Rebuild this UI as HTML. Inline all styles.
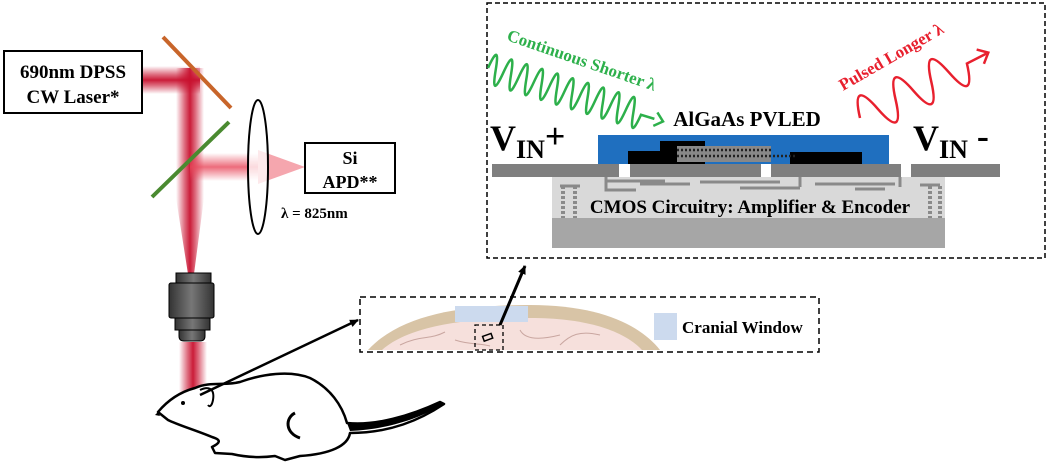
<!DOCTYPE html>
<html><head><meta charset="utf-8"><style>
html,body{margin:0;padding:0;background:#fff;}
svg{display:block;font-family:"Liberation Serif",serif;font-weight:bold;}
</style></head><body>
<svg width="1050" height="467" viewBox="0 0 1050 467" xmlns="http://www.w3.org/2000/svg">
<defs>
<linearGradient id="bh" x1="0" y1="0" x2="0" y2="1">
<stop offset="0" stop-color="#c8102e" stop-opacity="0"/><stop offset="0.3" stop-color="#c8102e" stop-opacity="0.6"/><stop offset="0.5" stop-color="#c8102e" stop-opacity="0.95"/><stop offset="0.7" stop-color="#c8102e" stop-opacity="0.6"/><stop offset="1" stop-color="#c8102e" stop-opacity="0"/></linearGradient>
<linearGradient id="bv" x1="0" y1="0" x2="1" y2="0">
<stop offset="0" stop-color="#c8102e" stop-opacity="0"/><stop offset="0.3" stop-color="#c8102e" stop-opacity="0.6"/><stop offset="0.5" stop-color="#c8102e" stop-opacity="0.95"/><stop offset="0.7" stop-color="#c8102e" stop-opacity="0.6"/><stop offset="1" stop-color="#c8102e" stop-opacity="0"/></linearGradient>
<linearGradient id="bh2" x1="0" y1="0" x2="0" y2="1">
<stop offset="0" stop-color="#e8475a" stop-opacity="0"/><stop offset="0.5" stop-color="#e8475a" stop-opacity="0.8"/><stop offset="1" stop-color="#e8475a" stop-opacity="0"/></linearGradient>
<linearGradient id="obj" x1="0" y1="0" x2="1" y2="0">
<stop offset="0" stop-color="#333"/><stop offset="0.5" stop-color="#777"/><stop offset="1" stop-color="#333"/></linearGradient>
<marker id="ah" markerWidth="10" markerHeight="10" refX="8" refY="5" orient="auto" markerUnits="userSpaceOnUse"><path d="M0,1 L9,5 L0,9 z" fill="#000"/></marker>
</defs>

<!-- beams -->
<rect x="142" y="66" width="58" height="28" fill="url(#bh)"/>
<rect x="176" y="68" width="28" height="130" fill="url(#bv)"/>
<polygon points="176,198 204,198 194,274 188,274" fill="url(#bv)"/>
<rect x="190" y="153" width="68" height="28" fill="url(#bh2)"/>
<polygon points="258,150 305,167 258,184" fill="#ef6a78" opacity="0.6"/>
<rect x="179" y="342" width="28" height="52" fill="url(#bv)"/>

<!-- mirrors -->
<line x1="163" y1="37" x2="231" y2="108" stroke="#c8652a" stroke-width="4"/>
<line x1="229" y1="122" x2="152" y2="197" stroke="#4a8a30" stroke-width="4"/>

<!-- lens -->
<ellipse cx="258" cy="167" rx="10" ry="67" fill="#fff" stroke="#000" stroke-width="2" fill-opacity="0.75"/>

<!-- laser box -->
<rect x="4" y="51" width="138" height="62" fill="#fff" stroke="#000" stroke-width="2"/>
<text x="73" y="78" font-size="19" text-anchor="middle">690nm DPSS</text>
<text x="73" y="103" font-size="19" text-anchor="middle">CW Laser*</text>

<!-- APD -->
<rect x="305" y="143" width="90" height="50" fill="#fff" stroke="#000" stroke-width="2"/>
<text x="350" y="164" font-size="18" text-anchor="middle">Si</text>
<text x="350" y="188" font-size="18" text-anchor="middle">APD**</text>
<text x="281" y="218" font-size="15">λ = 825nm</text>

<!-- objective -->
<rect x="176" y="273" width="35" height="10" fill="url(#obj)" stroke="#000"/>
<rect x="169" y="283" width="45" height="35" rx="2" fill="url(#obj)" stroke="#000"/>
<rect x="175" y="318" width="35" height="12" fill="url(#obj)" stroke="#000"/>
<path d="M179,330 h26 v6 q0,5 -5,5 h-16 q-5,0 -5,-5z" fill="url(#obj)" stroke="#000"/>

<!-- mouse -->
<path d="M158,412 C168,400 180,392 195,388 C210,381 225,386 240,382 C262,374 290,370 310,378 C330,388 342,405 347,423 C375,426 410,416 440,402 L444,404 C420,420 390,433 350,433 C348,446 330,454 300,456 L285,460 L275,456 C260,458 245,457 232,454 L215,453 L212,447 C220,443 222,440 212,437 C195,430 178,425 168,420 Z" fill="#fff" stroke="#000" stroke-width="2.5" stroke-linejoin="round"/>
<path d="M347,423 C375,426 410,416 440,402 L444,404 C420,418 390,429 350,431 Z" fill="#000"/>
<path d="M295,413 C285,418 285,433 300,438" fill="none" stroke="#000" stroke-width="3"/>
<path d="M200,390 C208,386 215,388 213,400 C212,405 210,408 208,405" fill="none" stroke="#000" stroke-width="2"/>
<circle cx="183" cy="403" r="2" fill="#000"/>
<path d="M158,412 l-3,3 l5,1z" fill="#000"/>

<!-- arrow to brain -->
<line x1="200" y1="395" x2="358" y2="320" stroke="#000" stroke-width="2.5" marker-end="url(#ah)"/>

<!-- brain box -->
<rect x="360" y="297" width="459" height="55" fill="none" stroke="#000" stroke-width="1.5" stroke-dasharray="6,4"/>
<path d="M368,350 C400,315 460,305 530,305 C600,305 640,325 660,350 Z" fill="#d8c4a6"/>
<path d="M382,350 C410,325 470,318 530,318 C590,318 625,332 642,350 Z" fill="#f6e0dc"/>
<path d="M400,345 C420,335 430,340 445,332 M520,330 C525,340 540,340 560,335 M560,345 C570,335 580,330 600,335 M455,340 C470,345 480,343 490,346" fill="none" stroke="#c9a6a0" stroke-width="1"/>
<rect x="455" y="306" width="73" height="16" fill="#ccdaee"/>
<rect x="475" y="325" width="28" height="25" fill="none" stroke="#000" stroke-width="1.3" stroke-dasharray="4,3"/>
<rect x="483" y="335" width="9" height="5" fill="none" stroke="#000" stroke-width="1.5" transform="rotate(-20 487 337)"/>
<rect x="654" y="313" width="23" height="27" fill="#ccdaee"/>
<text x="682" y="333" font-size="17">Cranial Window</text>
<line x1="500" y1="325" x2="525" y2="266" stroke="#000" stroke-width="3" marker-end="url(#ah)"/>

<!-- chip box -->
<rect x="487" y="3" width="558" height="255" fill="none" stroke="#000" stroke-width="1.5" stroke-dasharray="5,3"/>

<!-- green wave -->
<g transform="translate(488,68) rotate(17)" fill="none" stroke="#2db04b" stroke-width="2.5">
<path d="M0,0 q4,-30 8,0 t8,0 t8,0 t8,0 t8,0 t8,0 t8,0 t8,0 t8,0 t8,0 t8,0 t8,0 t8,0 t8,0 t8,0 t8,0 t8,0 t8,0 t8,0 t8,0 l14,0"/>
<path d="M175,-7 l8,7 l-8,7"/>
</g>
<text transform="translate(506,40) rotate(19)" font-size="17" fill="#2db04b">Continuous Shorter λ</text>

<!-- red wave -->
<g transform="translate(860,118) rotate(-27)" fill="none" stroke="#e8202e" stroke-width="2.5">
<path d="M0,0 q10,-40 20,0 t20,0 t20,0 t20,0 t20,0 t20,0 l22,0"/>
<path d="M135,-8 l9,8 l-9,8"/>
</g>
<text transform="translate(843,91) rotate(-30)" font-size="17" fill="#e8202e">Pulsed Longer λ</text>

<text x="747" y="126" font-size="21" text-anchor="middle">AlGaAs PVLED</text>
<text x="490" y="150" font-size="36">V<tspan font-size="26" dy="8">IN</tspan><tspan font-size="36" dy="-10">+</tspan></text>
<text x="913" y="150" font-size="36">V<tspan font-size="26" dy="8">IN</tspan><tspan font-size="36" dy="-10"> -</tspan></text>

<!-- chip structure -->
<rect x="552" y="177" width="393" height="42" fill="#d9d9d9"/>
<rect x="552" y="218" width="393" height="30" fill="#a6a6a6"/>
<rect x="598" y="135" width="291" height="29" fill="#1f6fbf"/>
<rect x="628" y="151" width="45" height="13" fill="#000"/>
<rect x="660" y="141" width="45" height="23" fill="#000"/>
<rect x="790" y="152" width="72" height="12" fill="#000"/>
<rect x="677" y="146" width="94" height="16" fill="#888"/>
<path d="M677,150 h94 M677,156 h120" stroke="#222" stroke-width="2.5" stroke-dasharray="2,2"/>
<rect x="492" y="164" width="127" height="13" fill="#7f7f7f"/>
<rect x="630" y="164" width="131" height="13" fill="#7f7f7f"/>
<rect x="771" y="164" width="130" height="13" fill="#7f7f7f"/>
<rect x="911" y="164" width="89" height="13" fill="#7f7f7f"/>
<g stroke="#8a8a8a" stroke-width="3" fill="none">
<path d="M560,186 h20 M606,177 v13 h30 M605,181 h60 M640,184 h50 M700,182 h80 M740,188 h60 M800,177 v10 M815,184 h80 M855,189 h30 M900,177 v10 M920,185 h20"/>
<path d="M563,186 v32 M575,186 v32 M930,186 v32 M940,186 v32" stroke-dasharray="3,2" stroke-width="4"/>
</g>
<text x="750" y="213" font-size="19" text-anchor="middle">CMOS Circuitry: Amplifier &amp; Encoder</text>
</svg>
</body></html>
